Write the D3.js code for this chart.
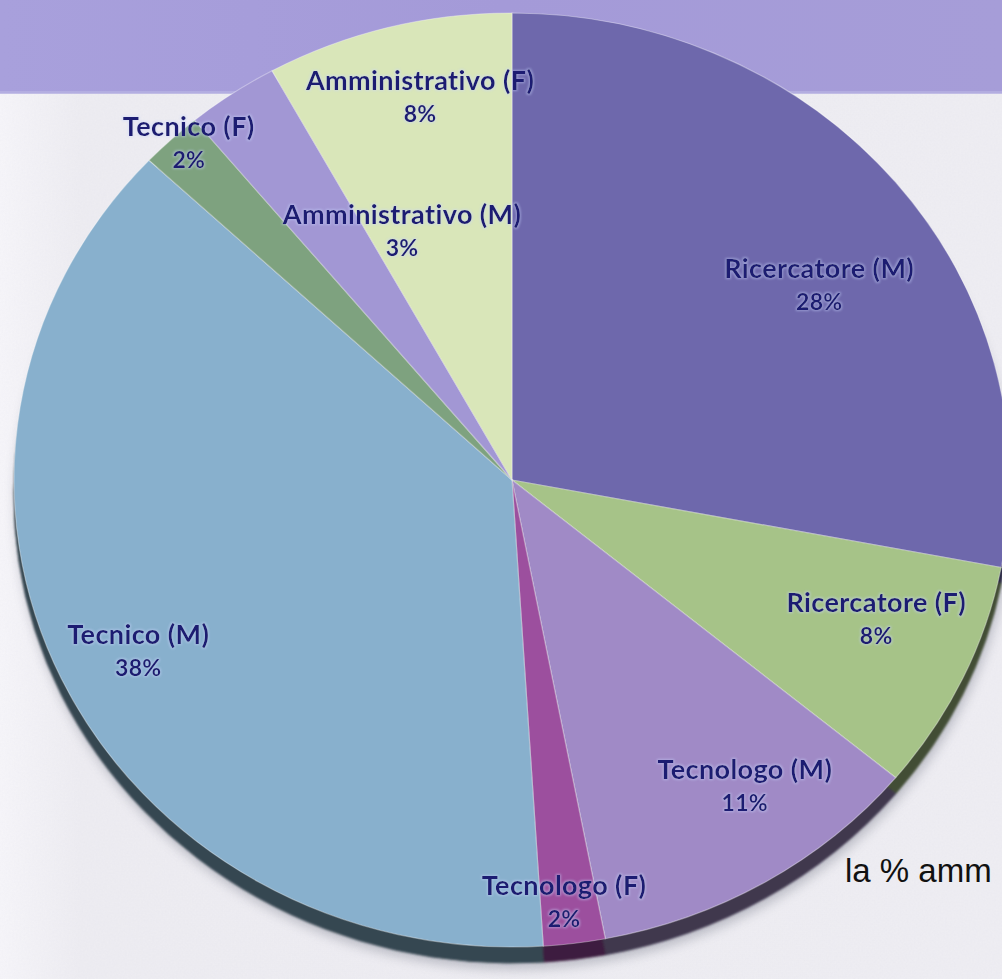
<!DOCTYPE html>
<html>
<head>
<meta charset="utf-8">
<script src="https://cdn.jsdelivr.net/npm/d3@7"></script>
<style>
  html, body { margin: 0; padding: 0; background: #efeef3; overflow: hidden; }
  svg { display: block; }
</style>
</head>
<body>
<svg id="chart" width="1002" height="979"></svg>
<script>
// Staff composition by role and gender (percent of total)
const categories = [
  "Ricercatore (M)", "Ricercatore (F)", "Tecnologo (M)", "Tecnologo (F)",
  "Tecnico (M)", "Tecnico (F)", "Amministrativo (M)", "Amministrativo (F)"
];
const shares = [28, 8, 11, 2, 38, 2, 3, 8];

// Slice fills, in the same order as the categories
const sliceColors = [
  "#6e68ac", "#a6c388", "#a08ac6", "#9c4f9e",
  "#88b0cd", "#7ea27f", "#a297d4", "#d9e6b9"
];

// Label placement: fraction of the radius and angular nudge (degrees)
const labelRadius = [0.745, 0.79, 0.805, 0.91, 0.835, 0.97, 0.577, 0.84];
const labelNudge = [5.5, -3, -4.9, 0.6, -0.8, 1.2, 11.7, 1.7];

const W = 1002, H = 979;
const cx = 512, cy = 480, rx = 498, ry = 467;
const depth = 16;

const svg = d3.select("#chart");
const defs = svg.append("defs");

// paper texture for the slide background
const grain = defs.append("filter").attr("id", "grain")
  .attr("x", 0).attr("y", 0).attr("width", "100%").attr("height", "100%");
grain.append("feTurbulence").attr("type", "fractalNoise")
  .attr("baseFrequency", 0.55).attr("numOctaves", 2).attr("seed", 4).attr("result", "n");
grain.append("feColorMatrix").attr("in", "n").attr("type", "matrix")
  .attr("values", "0 0 0 0 0.55  0 0 0 0 0.55  0 0 0 0 0.65  0 0 0 0.10 0");

const soft = defs.append("filter").attr("id", "soft")
  .attr("x", "-10%").attr("y", "-10%").attr("width", "120%").attr("height", "120%");
soft.append("feGaussianBlur").attr("stdDeviation", 6);

const rimBlur = defs.append("filter").attr("id", "rimBlur")
  .attr("x", "-5%").attr("y", "-5%").attr("width", "110%").attr("height", "110%");
rimBlur.append("feGaussianBlur").attr("stdDeviation", 1.2);

const halo = defs.append("filter").attr("id", "halo")
  .attr("x", "-10%").attr("y", "-30%").attr("width", "120%").attr("height", "160%");
halo.append("feMorphology").attr("in", "SourceAlpha").attr("operator", "dilate").attr("radius", 1.2).attr("result", "d");
halo.append("feGaussianBlur").attr("in", "d").attr("stdDeviation", 1.2).attr("result", "b");
halo.append("feFlood").attr("flood-color", "#c9d4ff").attr("flood-opacity", 0.45).attr("result", "f");
halo.append("feComposite").attr("in", "f").attr("in2", "b").attr("operator", "in").attr("result", "h");
const hm = halo.append("feMerge");
hm.append("feMergeNode").attr("in", "h");
hm.append("feMergeNode").attr("in", "SourceGraphic");

const headGrad = defs.append("linearGradient").attr("id", "headGrad")
  .attr("x1", 0).attr("x2", 1).attr("y1", 0).attr("y2", 0);
headGrad.append("stop").attr("offset", 0).attr("stop-color", "#a8a0dc");
headGrad.append("stop").attr("offset", 0.5).attr("stop-color", "#a49ad8");
headGrad.append("stop").attr("offset", 1).attr("stop-color", "#a69dd8");

const bgGrad = defs.append("linearGradient").attr("id", "bgGrad")
  .attr("x1", 0).attr("x2", 1).attr("y1", 0).attr("y2", 0);
bgGrad.append("stop").attr("offset", 0).attr("stop-color", "#f7f6fa");
bgGrad.append("stop").attr("offset", 0.08).attr("stop-color", "#eeedf2");
bgGrad.append("stop").attr("offset", 1).attr("stop-color", "#efeef3");

// background and title band
svg.append("rect").attr("width", W).attr("height", H).attr("fill", "url(#bgGrad)");
svg.append("rect").attr("width", W).attr("height", H).attr("filter", "url(#grain)");
svg.append("rect").attr("width", W).attr("height", 93).attr("fill", "url(#headGrad)");
svg.append("rect").attr("y", 91).attr("width", W).attr("height", 3).attr("fill", "#b7b1e2").attr("opacity", 0.8);

// caption at the right edge
svg.append("text")
  .attr("x", 845).attr("y", 882)
  .attr("font-family", "'Liberation Sans', Arial, sans-serif")
  .attr("font-size", 33)
  .attr("fill", "#111")
  .text("la % amm");

const pie = d3.pie().sort(null).value(d => d).startAngle(0).endAngle(2 * Math.PI);
const arcs = pie(shares);
const arc = d3.arc().innerRadius(0).outerRadius(rx);
const k = ry / rx;

// soft shadow under the disc
svg.append("ellipse")
  .attr("cx", cx + 2).attr("cy", cy + depth + 6)
  .attr("rx", rx).attr("ry", ry)
  .attr("fill", "#5a5f70").attr("opacity", 0.35)
  .attr("filter", "url(#soft)");

// side of the disc: darker copy pushed down
svg.append("g")
  .attr("transform", `translate(${cx},${cy + depth}) scale(1,${k})`)
  .attr("filter", "url(#rimBlur)")
  .selectAll("path")
  .data(arcs)
  .join("path")
  .attr("d", arc)
  .attr("fill", (d, i) => d3.color(sliceColors[i]).darker(2.6))
  .attr("stroke", (d, i) => d3.color(sliceColors[i]).darker(2.6))
  .attr("stroke-width", 1);

// top face
svg.append("g")
  .attr("transform", `translate(${cx},${cy}) scale(1,${k})`)
  .selectAll("path")
  .data(arcs)
  .join("path")
  .attr("d", arc)
  .attr("fill", (d, i) => sliceColors[i])
  .attr("stroke", "rgba(255,255,255,0.35)")
  .attr("stroke-width", 1.2)
  .attr("vector-effect", "non-scaling-stroke");

// slice labels: category name and share
const labels = svg.append("g")
  .attr("font-family", "Lato, 'Liberation Sans', sans-serif")
  .attr("font-weight", 700)
  .attr("fill", "#1b1a72")
  .attr("text-anchor", "middle")
  .attr("filter", "url(#halo)");

arcs.forEach((d, i) => {
  const a = (d.startAngle + d.endAngle) / 2 + labelNudge[i] * Math.PI / 180;
  const x = cx + rx * labelRadius[i] * Math.sin(a);
  const y = cy - ry * labelRadius[i] * Math.cos(a);
  const g = labels.append("g").attr("transform", `translate(${x},${y})`);
  g.append("text")
    .attr("y", -7)
    .attr("font-size", 27)
    .attr("letter-spacing", 0.4)
    .text(categories[i]);
  g.append("text")
    .attr("y", 25)
    .attr("font-size", 23)
    .attr("letter-spacing", 0.3)
    .text(shares[i] + "%");
});
</script>
</body>
</html>
